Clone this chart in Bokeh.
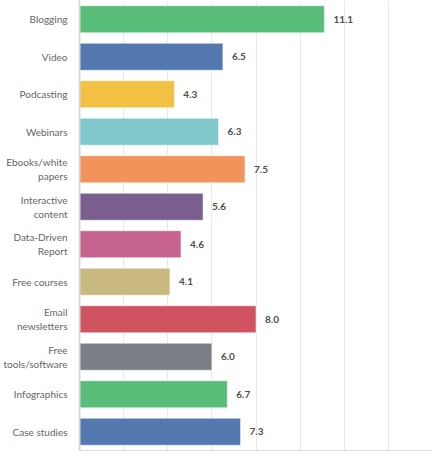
from bokeh.plotting import figure
from bokeh.models import ColumnDataSource, Range1d, SingleIntervalTicker, FixedTicker
from bokeh.core.properties import value
from bokeh.embed import file_html
from bokeh.resources import INLINE

categories = ['Blogging', 'Video', 'Podcasting', 'Webinars', 'Ebooks/white\npapers',
              'Interactive\ncontent', 'Data-Driven\nReport', 'Free courses',
              'Email\nnewsletters', 'Free\ntools/software', 'Infographics', 'Case studies']
values = [11.1, 6.5, 4.3, 6.3, 7.5, 5.6, 4.6, 4.1, 8.0, 6.0, 6.7, 7.3]
colors = ['#57bd78', '#5479b0', '#f2c043', '#80c8cc', '#f2935c', '#7a5f8e',
          '#c6648f', '#c9b880', '#d0545f', '#7a7f85', '#57bd78', '#5479b0']

src = ColumnDataSource(data=dict(
    cat=categories, val=values, color=colors,
    label=['%.1f' % v for v in values]))

p = figure(y_range=list(reversed(categories)), x_range=Range1d(0, 16),
           width=432, height=451, output_backend="svg", toolbar_location=None,
           min_border_left=73, min_border_right=0, min_border_top=0, min_border_bottom=1)

p.hbar(y='cat', right='val', height=0.72, color='color', line_color='white',
       line_alpha=0.5, source=src)
p.text(x='val', y='cat', text='label', source=src, x_offset=9,
       text_baseline='middle', text_align='left', text_font=value('Lato'),
       text_font_style='bold', text_font_size='10px', text_color='#4d4d4d')

p.y_range.range_padding = 0
p.outline_line_color = None
p.ygrid.grid_line_color = None
p.xgrid.ticker = SingleIntervalTicker(interval=2)
p.xgrid.grid_line_color = '#e8e8e8'

# bottom axis: only its line, no ticks or labels
p.xaxis.ticker = FixedTicker(ticks=[])
p.xaxis.major_tick_line_color = None
p.xaxis.minor_tick_line_color = None
p.xaxis.axis_line_color = '#dcdcdc'

p.yaxis.axis_line_color = '#d9d9d9'
p.yaxis.axis_line_width = 2
p.yaxis.major_tick_line_color = None
p.yaxis.minor_tick_line_color = None
p.yaxis.major_label_standoff = 6
p.yaxis.major_label_text_font = 'Lato'
p.yaxis.major_label_text_font_size = '10px'
p.yaxis.major_label_text_color = '#666666'

open("out.html", "w").write(file_html(p, INLINE))
